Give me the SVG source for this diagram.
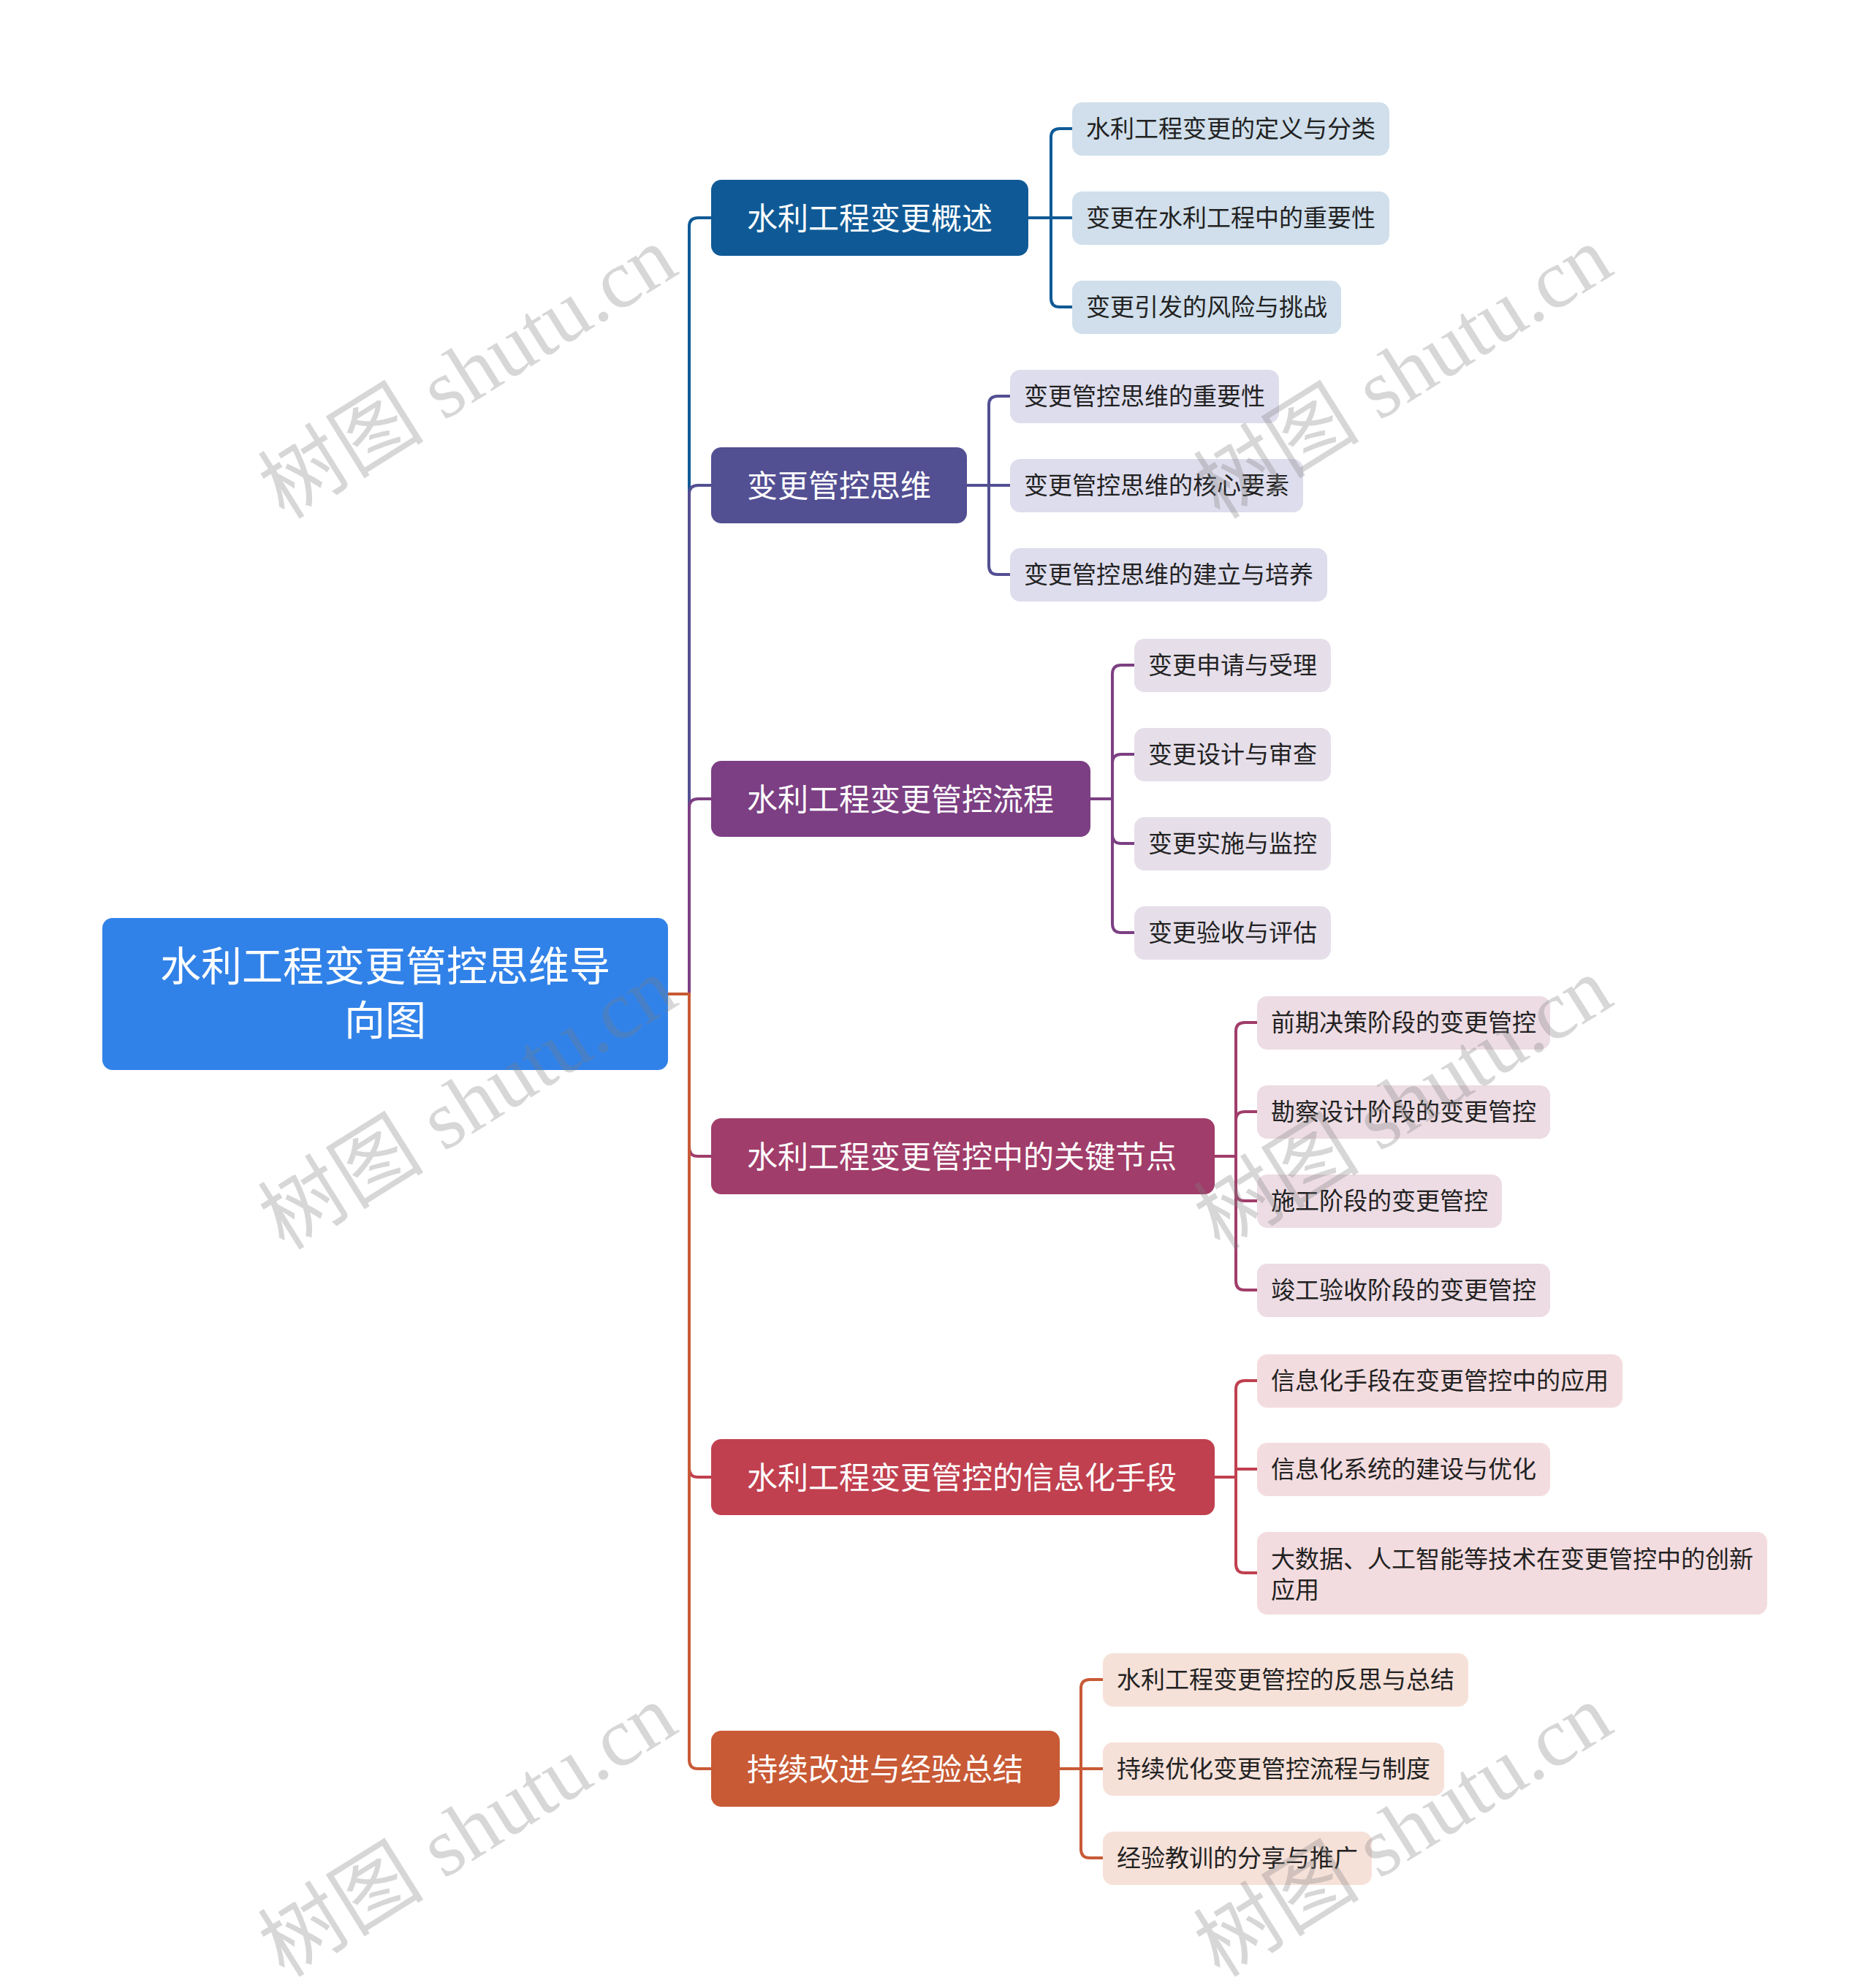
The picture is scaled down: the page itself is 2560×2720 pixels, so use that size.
<svg xmlns="http://www.w3.org/2000/svg" width="2560" height="2720" viewBox="0 0 2560 2720">
<style>
text{font-family:"Noto Sans CJK SC","Noto Sans",sans-serif;}
.root{fill:#3182e8;}
.rt{fill:#ffffff;font-size:56px;text-anchor:middle;dominant-baseline:central;}
.mt{fill:#ffffff;font-size:42px;dominant-baseline:central;}
.ct{fill:#222222;font-size:33px;dominant-baseline:central;}
.ln{fill:none;stroke-width:4;stroke-linejoin:round;stroke-linecap:round;}
.wm{font-family:"Liberation Serif","Noto Sans CJK SC",serif;font-size:114px;fill:#7f7f7f;fill-opacity:0.31;text-anchor:middle;dominant-baseline:central;}
</style>
<rect width="2560" height="2720" fill="#ffffff"/>

<g id="connectors">
  <path class="ln" stroke="#0f5a96" d="M914 1360 H943 V310 Q943 298 955 298 H975"/>
  <path class="ln" stroke="#534f93" d="M914 1360 H943 V676 Q943 664 955 664 H975"/>
  <path class="ln" stroke="#7c3f83" d="M914 1360 H943 V1105 Q943 1093 955 1093 H975"/>
  <path class="ln" stroke="#a13d6a" d="M914 1360 H943 V1570 Q943 1582 955 1582 H975"/>
  <path class="ln" stroke="#c0404f" d="M914 1360 H943 V2009 Q943 2021 955 2021 H975"/>
  <path class="ln" stroke="#c85a36" d="M914 1360 H943 V2408 Q943 2420 955 2420 H975"/>
  <path class="ln" stroke="#0f5a96" d="M1405 298 H1438 V188 Q1438 176 1450 176 H1469"/>
  <path class="ln" stroke="#0f5a96" d="M1405 298 H1469"/>
  <path class="ln" stroke="#0f5a96" d="M1405 298 H1438 V408 Q1438 420 1450 420 H1469"/>
  <path class="ln" stroke="#534f93" d="M1321 664 H1353 V554 Q1353 542 1365 542 H1384"/>
  <path class="ln" stroke="#534f93" d="M1321 664 H1384"/>
  <path class="ln" stroke="#534f93" d="M1321 664 H1353 V774 Q1353 786 1365 786 H1384"/>
  <path class="ln" stroke="#7c3f83" d="M1490 1093 H1522 V922 Q1522 910 1534 910 H1554"/>
  <path class="ln" stroke="#7c3f83" d="M1490 1093 H1522 V1044 Q1522 1032 1534 1032 H1554"/>
  <path class="ln" stroke="#7c3f83" d="M1490 1093 H1522 V1142 Q1522 1154 1534 1154 H1554"/>
  <path class="ln" stroke="#7c3f83" d="M1490 1093 H1522 V1264 Q1522 1276 1534 1276 H1554"/>
  <path class="ln" stroke="#a13d6a" d="M1660 1582 H1691 V1411 Q1691 1399 1703 1399 H1722"/>
  <path class="ln" stroke="#a13d6a" d="M1660 1582 H1691 V1533 Q1691 1521 1703 1521 H1722"/>
  <path class="ln" stroke="#a13d6a" d="M1660 1582 H1691 V1631 Q1691 1643 1703 1643 H1722"/>
  <path class="ln" stroke="#a13d6a" d="M1660 1582 H1691 V1753 Q1691 1765 1703 1765 H1722"/>
  <path class="ln" stroke="#c0404f" d="M1660 2021 H1691 V1901 Q1691 1889 1703 1889 H1722"/>
  <path class="ln" stroke="#c0404f" d="M1660 2021 H1691 V2010 H1722"/>
  <path class="ln" stroke="#c0404f" d="M1660 2021 H1691 V2140 Q1691 2152 1703 2152 H1722"/>
  <path class="ln" stroke="#c85a36" d="M1448 2420 H1479 V2310 Q1479 2298 1491 2298 H1511"/>
  <path class="ln" stroke="#c85a36" d="M1448 2420 H1511"/>
  <path class="ln" stroke="#c85a36" d="M1448 2420 H1479 V2530 Q1479 2542 1491 2542 H1511"/>
</g>

<g id="root">
  <rect class="root" x="140" y="1256" width="774" height="208" rx="14"/>
  <text class="rt" x="527" y="1317">水利工程变更管控思维导</text>
  <text class="rt" x="527" y="1391">向图</text>
</g>

<g id="m1"><rect x="973" y="246" width="434" height="104" rx="14" fill="#0f5a96"/><text class="mt" x="1022" y="295">水利工程变更概述</text></g>
<g id="m2"><rect x="973" y="612" width="350" height="104" rx="14" fill="#534f93"/><text class="mt" x="1022" y="661">变更管控思维</text></g>
<g id="m3"><rect x="973" y="1041" width="519" height="104" rx="14" fill="#7c3f83"/><text class="mt" x="1022" y="1090">水利工程变更管控流程</text></g>
<g id="m4"><rect x="973" y="1530" width="689" height="104" rx="14" fill="#a13d6a"/><text class="mt" x="1022" y="1579">水利工程变更管控中的关键节点</text></g>
<g id="m5"><rect x="973" y="1969" width="689" height="104" rx="14" fill="#c0404f"/><text class="mt" x="1022" y="2018">水利工程变更管控的信息化手段</text></g>
<g id="m6"><rect x="973" y="2368" width="477" height="104" rx="14" fill="#c85a36"/><text class="mt" x="1022" y="2417">持续改进与经验总结</text></g>

<g id="c1a"><rect x="1467" y="140" width="434" height="73" rx="14" fill="#d0dfeb"/><text class="ct" x="1486" y="174">水利工程变更的定义与分类</text></g>
<g id="c1b"><rect x="1467" y="262" width="434" height="73" rx="14" fill="#d0dfeb"/><text class="ct" x="1486" y="296">变更在水利工程中的重要性</text></g>
<g id="c1c"><rect x="1467" y="384" width="368" height="73" rx="14" fill="#d0dfeb"/><text class="ct" x="1486" y="418">变更引发的风险与挑战</text></g>

<g id="c2a"><rect x="1382" y="506" width="368" height="73" rx="14" fill="#dedded"/><text class="ct" x="1401" y="540">变更管控思维的重要性</text></g>
<g id="c2b"><rect x="1382" y="628" width="401" height="73" rx="14" fill="#dedded"/><text class="ct" x="1401" y="662">变更管控思维的核心要素</text></g>
<g id="c2c"><rect x="1382" y="750" width="434" height="73" rx="14" fill="#dedded"/><text class="ct" x="1401" y="784">变更管控思维的建立与培养</text></g>

<g id="c3a"><rect x="1552" y="874" width="269" height="73" rx="14" fill="#e6dfea"/><text class="ct" x="1571" y="908">变更申请与受理</text></g>
<g id="c3b"><rect x="1552" y="996" width="269" height="73" rx="14" fill="#e6dfea"/><text class="ct" x="1571" y="1030">变更设计与审查</text></g>
<g id="c3c"><rect x="1552" y="1118" width="269" height="73" rx="14" fill="#e6dfea"/><text class="ct" x="1571" y="1152">变更实施与监控</text></g>
<g id="c3d"><rect x="1552" y="1240" width="269" height="73" rx="14" fill="#e6dfea"/><text class="ct" x="1571" y="1274">变更验收与评估</text></g>

<g id="c4a"><rect x="1720" y="1363" width="401" height="73" rx="14" fill="#eddce4"/><text class="ct" x="1739" y="1397">前期决策阶段的变更管控</text></g>
<g id="c4b"><rect x="1720" y="1485" width="401" height="73" rx="14" fill="#eddce4"/><text class="ct" x="1739" y="1519">勘察设计阶段的变更管控</text></g>
<g id="c4c"><rect x="1720" y="1607" width="335" height="73" rx="14" fill="#eddce4"/><text class="ct" x="1739" y="1641">施工阶段的变更管控</text></g>
<g id="c4d"><rect x="1720" y="1729" width="401" height="73" rx="14" fill="#eddce4"/><text class="ct" x="1739" y="1763">竣工验收阶段的变更管控</text></g>

<g id="c5a"><rect x="1720" y="1853" width="500" height="73" rx="14" fill="#f3dcdf"/><text class="ct" x="1739" y="1887">信息化手段在变更管控中的应用</text></g>
<g id="c5b"><rect x="1720" y="1974" width="401" height="73" rx="14" fill="#f3dcdf"/><text class="ct" x="1739" y="2008">信息化系统的建设与优化</text></g>
<g id="c5c"><rect x="1720" y="2096" width="698" height="113" rx="14" fill="#f3dcdf"/><text class="ct" x="1739" y="2131">大数据、人工智能等技术在变更管控中的创新</text><text class="ct" x="1739" y="2173">应用</text></g>

<g id="c6a"><rect x="1509" y="2262" width="500" height="73" rx="14" fill="#f6e1d9"/><text class="ct" x="1528" y="2296">水利工程变更管控的反思与总结</text></g>
<g id="c6b"><rect x="1509" y="2384" width="467" height="73" rx="14" fill="#f6e1d9"/><text class="ct" x="1528" y="2418">持续优化变更管控流程与制度</text></g>
<g id="c6c"><rect x="1509" y="2506" width="368" height="73" rx="14" fill="#f6e1d9"/><text class="ct" x="1528" y="2540">经验教训的分享与推广</text></g>

<g id="watermarks">
  <text class="wm" transform="translate(640 510) rotate(-32)">树图 shutu.cn</text>
  <text class="wm" transform="translate(1920 510) rotate(-32)">树图 shutu.cn</text>
  <text class="wm" transform="translate(640 1510) rotate(-32)">树图 shutu.cn</text>
  <text class="wm" transform="translate(1920 1510) rotate(-32)">树图 shutu.cn</text>
  <text class="wm" transform="translate(640 2505) rotate(-32)">树图 shutu.cn</text>
  <text class="wm" transform="translate(1920 2505) rotate(-32)">树图 shutu.cn</text>
</g>
</svg>
